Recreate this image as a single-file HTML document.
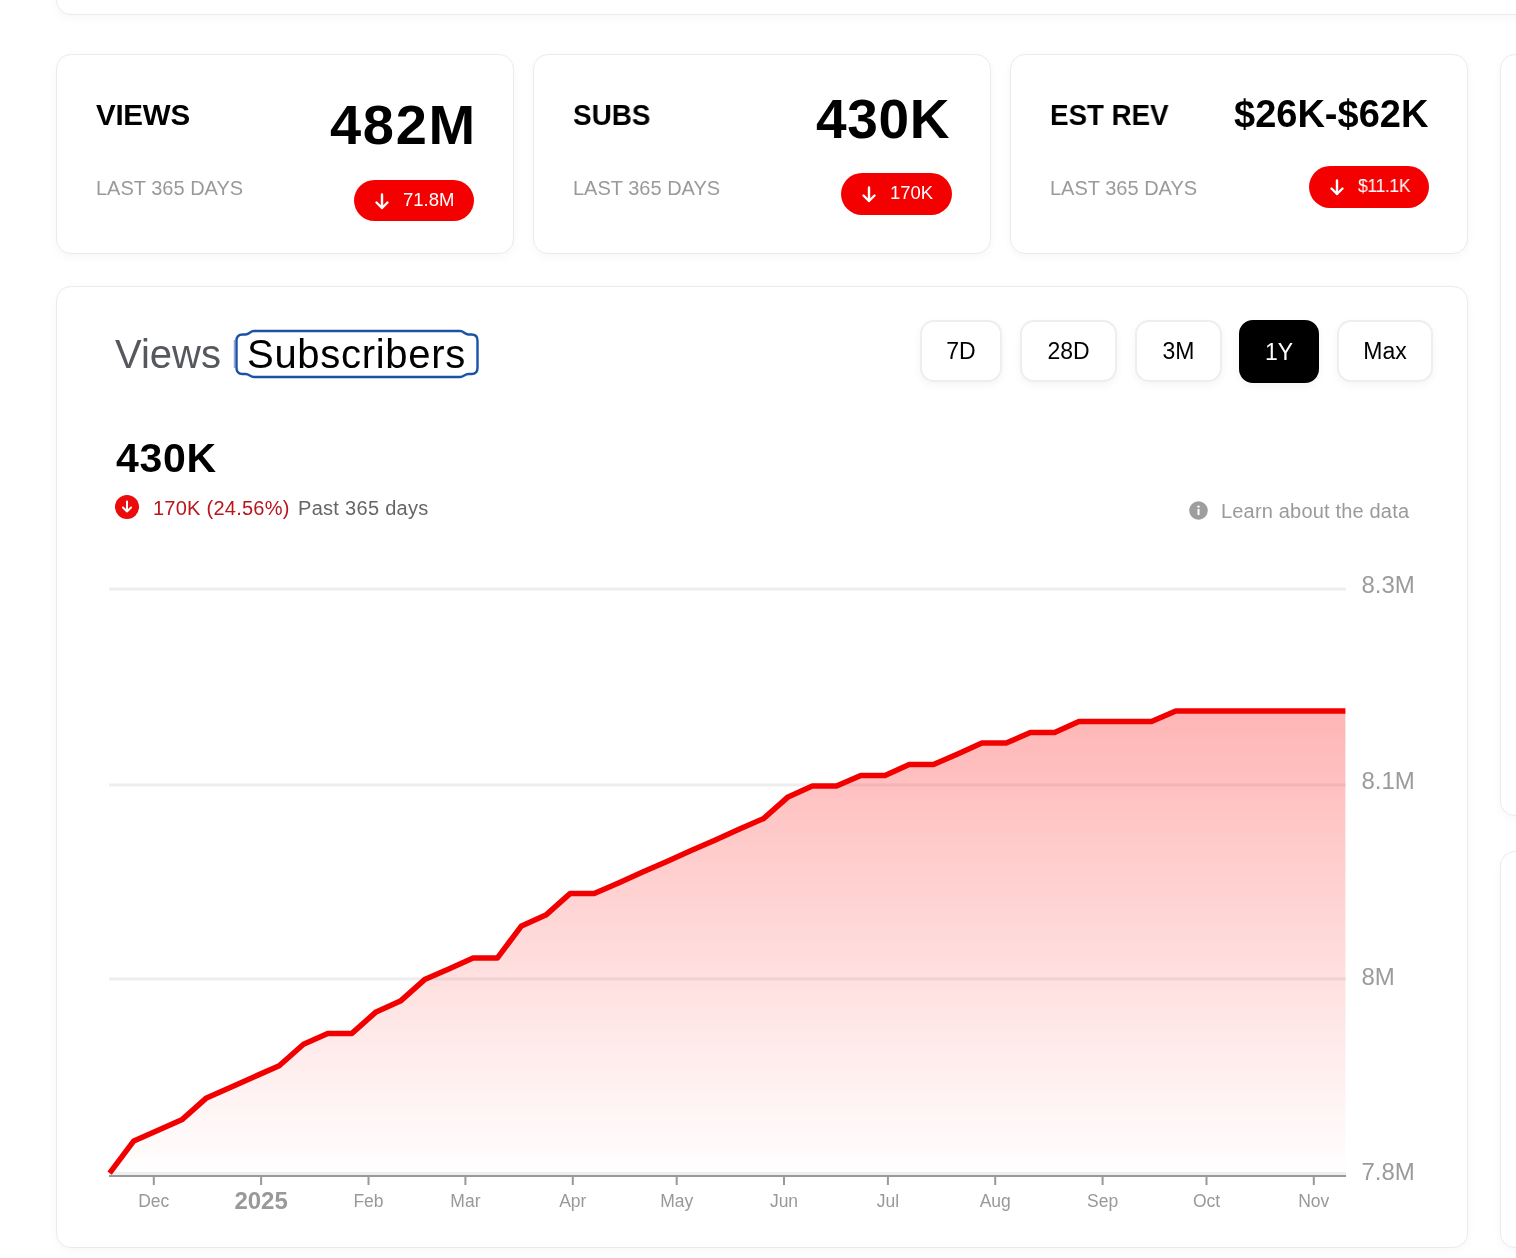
<!DOCTYPE html>
<html lang="en">
<head>
<meta charset="utf-8">
<title>Channel Stats</title>
<style>
html,body{margin:0;padding:0;background:#fff;}
body{width:1516px;height:1258px;overflow:hidden;position:relative;font-family:"Liberation Sans",Arial,Helvetica,sans-serif;color:#000;}
.card{position:absolute;background:#fff;border:1px solid #ebebeb;border-radius:15px;box-shadow:0 3px 10px rgba(0,0,0,0.035);box-sizing:border-box;}
.t{position:absolute;white-space:nowrap;line-height:1;will-change:transform;}
.lbl{font-weight:700;font-size:29.5px;letter-spacing:-0.25px;}
.val{font-weight:700;}
.sub{font-size:20px;color:#9a9a9a;}
.badge{position:absolute;background:#f40000;border-radius:21px;color:#fff;box-sizing:border-box;}
.badge .arr{position:absolute;left:20px;top:12.5px;}
.badge .bt{position:absolute;will-change:transform;left:48.5px;top:11.3px;font-size:18.5px;line-height:1;white-space:nowrap;color:#fff;}
.btn{position:absolute;will-change:transform;top:320px;height:62px;box-sizing:border-box;border:2px solid #eeeef1;border-radius:14px;background:#fff;box-shadow:0 3px 8px rgba(0,0,0,0.045);font-size:23px;line-height:58px;text-align:center;color:#000;}
.btn.on{background:#000;color:#fff;border-color:#000;top:319.5px;height:63px;line-height:61px;border-radius:14px;}
.chart{position:absolute;left:0;top:0;will-change:transform;}
.yl{font-family:"Liberation Sans",Arial,sans-serif;font-size:24px;fill:#9b9b9b;}
.xl{font-family:"Liberation Sans",Arial,sans-serif;font-size:17.5px;fill:#999;}
.xl.yr{font-weight:700;font-size:24px;}
</style>
</head>
<body>
<!-- top partial card -->
<div class="card" style="left:56px;top:-40px;width:1500px;height:55px;"></div>
<!-- right side partial cards -->
<div class="card" style="left:1500px;top:54px;width:100px;height:762px;"></div>
<div class="card" style="left:1500px;top:851px;width:100px;height:397px;"></div>

<!-- stat cards -->
<div class="card" style="left:56px;top:54px;width:458px;height:200px;"></div>
<div class="card" style="left:533px;top:54px;width:458px;height:200px;"></div>
<div class="card" style="left:1010px;top:54px;width:458px;height:200px;"></div>

<div class="t lbl" style="left:96px;top:100px;">VIEWS</div>
<div class="t lbl" style="left:573px;top:100px;letter-spacing:0;transform:scaleX(0.945);transform-origin:0 0;">SUBS</div>
<div class="t lbl" style="left:1050px;top:100px;letter-spacing:0;transform:scaleX(0.94);transform-origin:0 0;">EST REV</div>

<div class="t sub" style="left:95.5px;top:178px;">LAST 365 DAYS</div>
<div class="t sub" style="left:572.5px;top:178px;">LAST 365 DAYS</div>
<div class="t sub" style="left:1050px;top:178px;">LAST 365 DAYS</div>

<div class="t val" style="right:1039.2px;top:97px;font-size:56px;letter-spacing:1.7px;">482M</div>
<div class="t val" style="right:565.5px;top:91.5px;font-size:55px;letter-spacing:0.7px;">430K</div>
<div class="t val" style="right:88px;top:94.5px;font-size:38px;">$26K-$62K</div>

<div class="badge" style="left:354px;top:180px;width:120px;height:41px;"><svg class="arr" width="16" height="17" viewBox="0 0 16 17"><path d="M8 1.5V15M2.5 9.5L8 15L13.5 9.5" fill="none" stroke="#fff" stroke-width="2.4" stroke-linecap="round" stroke-linejoin="round"/></svg><div class="bt">71.8M</div></div>
<div class="badge" style="left:841px;top:173px;width:111px;height:42px;"><svg class="arr" width="16" height="17" viewBox="0 0 16 17"><path d="M8 1.5V15M2.5 9.5L8 15L13.5 9.5" fill="none" stroke="#fff" stroke-width="2.4" stroke-linecap="round" stroke-linejoin="round"/></svg><div class="bt">170K</div></div>
<div class="badge" style="left:1309px;top:166px;width:120px;height:42px;"><svg class="arr" width="16" height="17" viewBox="0 0 16 17"><path d="M8 1.5V15M2.5 9.5L8 15L13.5 9.5" fill="none" stroke="#fff" stroke-width="2.4" stroke-linecap="round" stroke-linejoin="round"/></svg><div class="bt" style="letter-spacing:-0.4px;transform:scaleX(0.95);transform-origin:0 0;">$11.1K</div></div>

<!-- chart card -->
<div class="card" style="left:56px;top:286px;width:1412px;height:962px;"></div>

<div class="t" style="left:114.5px;top:333.5px;font-size:40px;color:#55585d;">Views</div>
<svg style="position:absolute;left:230px;top:324px;" width="256" height="60" viewBox="0 0 256 60"><path d="M24 7 H230 C234 7 234.5 10.5 238.5 10.5 H241.5 Q247.5 10.5 247.5 16.5 V44 Q247.5 50 241.5 50 H238.5 C234.5 50 234 53 230 53 H24 C20 53 19.5 50 15.5 50 H12.5 Q6.5 50 6.5 44 V16.5 Q6.5 10.5 12.5 10.5 H15.5 C19.5 10.5 20 7 24 7 Z" fill="none" stroke="#1a52a6" stroke-width="2.4"/><path d="M4.3 16 V44" stroke="#1a52a6" stroke-width="1" opacity="0.6"/></svg>
<div class="t" style="left:247px;top:333.5px;font-size:40px;letter-spacing:0.7px;color:#000;">Subscribers</div>

<div class="btn" style="left:920px;width:82px;">7D</div>
<div class="btn" style="left:1020px;width:97px;">28D</div>
<div class="btn" style="left:1135px;width:87px;">3M</div>
<div class="btn on" style="left:1239px;width:80px;">1Y</div>
<div class="btn" style="left:1337px;width:96px;">Max</div>

<div class="t val" style="left:115.5px;top:438px;font-size:41px;letter-spacing:0.7px;">430K</div>

<svg style="position:absolute;left:115px;top:494.5px;" width="24" height="24" viewBox="0 0 24 24"><circle cx="12" cy="12" r="12" fill="#ec0a0a"/><path d="M12 6.5V16.5M8 12.5L12 16.5L16 12.5" fill="none" stroke="#fff" stroke-width="2" stroke-linecap="round" stroke-linejoin="round"/></svg>
<div class="t" style="left:152.5px;top:497.5px;font-size:20px;letter-spacing:0.25px;color:#b8161b;">170K (24.56%)</div>
<div class="t" style="left:297.5px;top:497.5px;font-size:20px;letter-spacing:0.3px;color:#666;">Past 365 days</div>

<svg style="position:absolute;left:1189px;top:501px;" width="19" height="19" viewBox="0 0 19 19"><circle cx="9.5" cy="9.5" r="9.3" fill="#9e9e9e"/><rect x="8.5" y="8" width="2" height="6" fill="#fff"/><circle cx="9.5" cy="5.6" r="1.2" fill="#fff"/></svg>
<div class="t" style="left:1220.5px;top:501px;font-size:20px;letter-spacing:0.18px;color:#9a9a9a;">Learn about the data</div>

<svg class="chart" width="1516" height="1258" viewBox="0 0 1516 1258">
<defs><linearGradient id="g" x1="0" y1="0" x2="0" y2="1"><stop offset="0" stop-color="#ff0000" stop-opacity="0.29"/><stop offset="1" stop-color="#ff0000" stop-opacity="0"/></linearGradient></defs>
<rect x="109" y="587.6" width="1237" height="3" fill="#eeeef0"/><rect x="109" y="783.4" width="1237" height="3" fill="#eeeef0"/><rect x="109" y="977.4" width="1237" height="3" fill="#eeeef0"/><rect x="109" y="1172.0" width="1237" height="3" fill="#eeeef0"/>
<path d="M109.6 1173.2 L133.8 1140.9 L158.1 1130.2 L182.3 1119.4 L206.5 1097.9 L230.8 1087.2 L255.0 1076.4 L279.2 1065.7 L303.5 1044.2 L327.7 1033.4 L351.9 1033.4 L376.1 1011.9 L400.4 1001.1 L424.6 979.6 L448.8 968.9 L473.1 958.1 L497.3 958.1 L521.5 925.9 L545.8 915.1 L570.0 893.6 L594.2 893.6 L618.5 882.9 L642.7 872.1 L666.9 861.4 L691.2 850.6 L715.4 839.9 L739.6 829.1 L763.8 818.4 L788.1 796.9 L812.3 786.1 L836.5 786.1 L860.8 775.4 L885.0 775.4 L909.2 764.6 L933.5 764.6 L957.7 753.9 L981.9 743.1 L1006.2 743.1 L1030.4 732.4 L1054.6 732.4 L1078.9 721.6 L1103.1 721.6 L1127.3 721.6 L1151.5 721.6 L1175.8 710.9 L1200.0 710.9 L1224.2 710.9 L1248.5 710.9 L1272.7 710.9 L1296.9 710.9 L1321.2 710.9 L1345.4 710.9 L1345.4 1175.0 L109.6 1175.0 Z" fill="url(#g)"/>
<rect x="109" y="1175" width="1237" height="2" fill="#999"/>
<rect x="152.8" y="1177" width="2" height="8" fill="#999"/><rect x="260.1" y="1177" width="2" height="8" fill="#999"/><rect x="367.5" y="1177" width="2" height="8" fill="#999"/><rect x="464.4" y="1177" width="2" height="8" fill="#999"/><rect x="571.8" y="1177" width="2" height="8" fill="#999"/><rect x="675.7" y="1177" width="2" height="8" fill="#999"/><rect x="783.0" y="1177" width="2" height="8" fill="#999"/><rect x="886.9" y="1177" width="2" height="8" fill="#999"/><rect x="994.2" y="1177" width="2" height="8" fill="#999"/><rect x="1101.6" y="1177" width="2" height="8" fill="#999"/><rect x="1205.5" y="1177" width="2" height="8" fill="#999"/><rect x="1312.8" y="1177" width="2" height="8" fill="#999"/>
<path d="M109.6 1173.2 L133.8 1140.9 L158.1 1130.2 L182.3 1119.4 L206.5 1097.9 L230.8 1087.2 L255.0 1076.4 L279.2 1065.7 L303.5 1044.2 L327.7 1033.4 L351.9 1033.4 L376.1 1011.9 L400.4 1001.1 L424.6 979.6 L448.8 968.9 L473.1 958.1 L497.3 958.1 L521.5 925.9 L545.8 915.1 L570.0 893.6 L594.2 893.6 L618.5 882.9 L642.7 872.1 L666.9 861.4 L691.2 850.6 L715.4 839.9 L739.6 829.1 L763.8 818.4 L788.1 796.9 L812.3 786.1 L836.5 786.1 L860.8 775.4 L885.0 775.4 L909.2 764.6 L933.5 764.6 L957.7 753.9 L981.9 743.1 L1006.2 743.1 L1030.4 732.4 L1054.6 732.4 L1078.9 721.6 L1103.1 721.6 L1127.3 721.6 L1151.5 721.6 L1175.8 710.9 L1200.0 710.9 L1224.2 710.9 L1248.5 710.9 L1272.7 710.9 L1296.9 710.9 L1321.2 710.9 L1345.4 710.9" fill="none" stroke="#f20000" stroke-width="5.5" stroke-linejoin="round"/>
<text x="1361.5" y="593.0" class="yl">8.3M</text><text x="1361.5" y="789.1" class="yl">8.1M</text><text x="1361.5" y="985.1" class="yl">8M</text><text x="1361.5" y="1180.1" class="yl">7.8M</text>
<text x="153.8" y="1206.8" text-anchor="middle" class="xl">Dec</text><text x="261.1" y="1209" text-anchor="middle" class="xl yr">2025</text><text x="368.5" y="1206.8" text-anchor="middle" class="xl">Feb</text><text x="465.4" y="1206.8" text-anchor="middle" class="xl">Mar</text><text x="572.8" y="1206.8" text-anchor="middle" class="xl">Apr</text><text x="676.7" y="1206.8" text-anchor="middle" class="xl">May</text><text x="784.0" y="1206.8" text-anchor="middle" class="xl">Jun</text><text x="887.9" y="1206.8" text-anchor="middle" class="xl">Jul</text><text x="995.2" y="1206.8" text-anchor="middle" class="xl">Aug</text><text x="1102.6" y="1206.8" text-anchor="middle" class="xl">Sep</text><text x="1206.5" y="1206.8" text-anchor="middle" class="xl">Oct</text><text x="1313.8" y="1206.8" text-anchor="middle" class="xl">Nov</text>
</svg>
</body>
</html>
